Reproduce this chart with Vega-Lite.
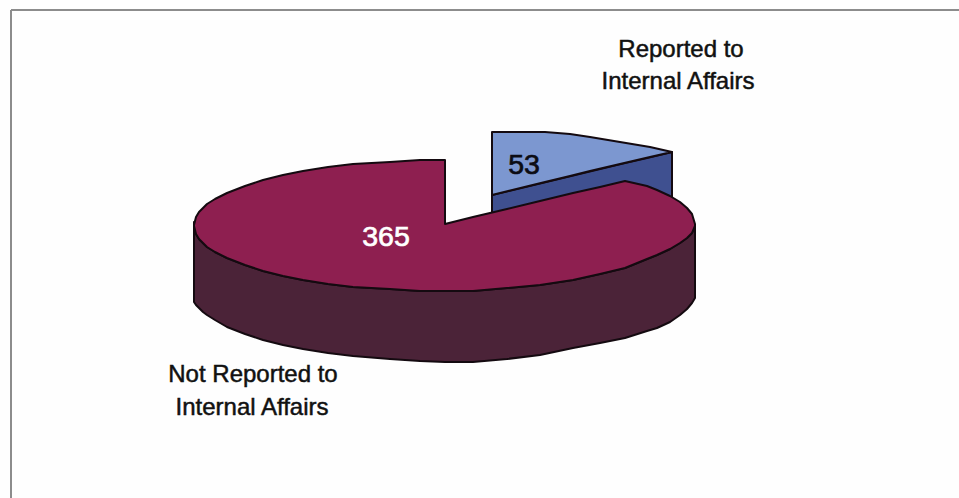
{
  "$schema": "https://vega.github.io/schema/vega-lite/v6.json",
  "width": 959,
  "height": 498,
  "padding": 0,
  "autosize": "none",
  "background": "#fefefe",
  "view": {"stroke": null},
  "datasets": {
    "faces": [
      {"piece":"reported wall","x":492,"y":195,"y2":214},
      {"piece":"reported wall","x":625,"y":163,"y2":182},
      {"piece":"reported wall","x":647,"y":158,"y2":187},
      {"piece":"reported wall","x":672,"y":152,"y2":198},

      {"piece":"reported top","x":492,"y":132,"y2":195},
      {"piece":"reported top","x":545,"y":132,"y2":182},
      {"piece":"reported top","x":570,"y":134,"y2":176},
      {"piece":"reported top","x":590,"y":137,"y2":171},
      {"piece":"reported top","x":620,"y":142,"y2":164},
      {"piece":"reported top","x":650,"y":147,"y2":157},
      {"piece":"reported top","x":672,"y":152,"y2":152},

      {"piece":"not reported wall","x":194,"y":222,"y2":302},
      {"piece":"not reported wall","x":196,"y":234,"y2":305},
      {"piece":"not reported wall","x":199,"y":239,"y2":308},
      {"piece":"not reported wall","x":203,"y":243,"y2":312},
      {"piece":"not reported wall","x":207,"y":247,"y2":315},
      {"piece":"not reported wall","x":215,"y":252,"y2":320},
      {"piece":"not reported wall","x":227,"y":258,"y2":327},
      {"piece":"not reported wall","x":245,"y":265,"y2":334},
      {"piece":"not reported wall","x":263,"y":271,"y2":340},
      {"piece":"not reported wall","x":283,"y":276,"y2":345},
      {"piece":"not reported wall","x":303,"y":280,"y2":349},
      {"piece":"not reported wall","x":328,"y":284,"y2":353},
      {"piece":"not reported wall","x":353,"y":287,"y2":356},
      {"piece":"not reported wall","x":390,"y":289,"y2":359},
      {"piece":"not reported wall","x":420,"y":291,"y2":361},
      {"piece":"not reported wall","x":445,"y":291,"y2":362},
      {"piece":"not reported wall","x":473,"y":291,"y2":362},
      {"piece":"not reported wall","x":507,"y":288,"y2":359},
      {"piece":"not reported wall","x":540,"y":285,"y2":355},
      {"piece":"not reported wall","x":573,"y":280,"y2":348},
      {"piece":"not reported wall","x":600,"y":274,"y2":343},
      {"piece":"not reported wall","x":625,"y":268,"y2":338},
      {"piece":"not reported wall","x":647,"y":259,"y2":331},
      {"piece":"not reported wall","x":657,"y":255,"y2":328},
      {"piece":"not reported wall","x":670,"y":249,"y2":322},
      {"piece":"not reported wall","x":680,"y":243,"y2":315},
      {"piece":"not reported wall","x":687,"y":238,"y2":309},
      {"piece":"not reported wall","x":692,"y":233,"y2":303},
      {"piece":"not reported wall","x":695,"y":225,"y2":298},

      {"piece":"not reported top","x":194,"y":225,"y2":226},
      {"piece":"not reported top","x":196,"y":217,"y2":234},
      {"piece":"not reported top","x":199,"y":212,"y2":239},
      {"piece":"not reported top","x":203,"y":208,"y2":243},
      {"piece":"not reported top","x":207,"y":204,"y2":247},
      {"piece":"not reported top","x":215,"y":199,"y2":252},
      {"piece":"not reported top","x":227,"y":193,"y2":258},
      {"piece":"not reported top","x":245,"y":186,"y2":265},
      {"piece":"not reported top","x":263,"y":180,"y2":271},
      {"piece":"not reported top","x":283,"y":175,"y2":276},
      {"piece":"not reported top","x":303,"y":171,"y2":280},
      {"piece":"not reported top","x":328,"y":167,"y2":284},
      {"piece":"not reported top","x":353,"y":164,"y2":287},
      {"piece":"not reported top","x":390,"y":162,"y2":289},
      {"piece":"not reported top","x":420,"y":160,"y2":291},
      {"piece":"not reported top","x":445,"y":160,"y2":291},
      {"piece":"not reported top","x":445.01,"y":224,"y2":291},
      {"piece":"not reported top","x":473,"y":217,"y2":291},
      {"piece":"not reported top","x":507,"y":209,"y2":288},
      {"piece":"not reported top","x":540,"y":201,"y2":285},
      {"piece":"not reported top","x":573,"y":193,"y2":280},
      {"piece":"not reported top","x":600,"y":187,"y2":274},
      {"piece":"not reported top","x":625,"y":181,"y2":268},
      {"piece":"not reported top","x":647,"y":186,"y2":259},
      {"piece":"not reported top","x":657,"y":190,"y2":255},
      {"piece":"not reported top","x":670,"y":196,"y2":249},
      {"piece":"not reported top","x":680,"y":202,"y2":243},
      {"piece":"not reported top","x":687,"y":208,"y2":238},
      {"piece":"not reported top","x":692,"y":214,"y2":233},
      {"piece":"not reported top","x":695,"y":224,"y2":226}
    ],
    "captions": [
      {"text":"Reported to","x":681,"y":50},
      {"text":"Internal Affairs","x":678,"y":82},
      {"text":"Not Reported to","x":253,"y":375},
      {"text":"Internal Affairs","x":252,"y":408}
    ],
    "slices": [
      {"slice":"Reported to Internal Affairs","count":53,"x":524,"y":165},
      {"slice":"Not Reported to Internal Affairs","count":365,"x":386,"y":237}
    ],
    "frame": [
      {"x":11,"x2":959,"y":10,"y2":10},
      {"x":11,"x2":11,"y":10,"y2":498}
    ]
  },
  "layer": [
    {
      "data": {"name": "frame"},
      "mark": {"type": "rule", "color": "#8c8c8c", "strokeWidth": 2},
      "encoding": {
        "x": {"field": "x", "type": "quantitative", "scale": {"domain": [0, 959]}, "axis": null},
        "x2": {"field": "x2"},
        "y": {"field": "y", "type": "quantitative", "scale": {"domain": [0, 498], "reverse": true}, "axis": null},
        "y2": {"field": "y2"}
      }
    },
    {
      "data": {"name": "faces"},
      "mark": {"type": "area", "orient": "vertical", "stroke": "#140a10", "strokeWidth": 2, "strokeJoin": "round", "interpolate": "linear"},
      "encoding": {
        "x": {"field": "x", "type": "quantitative", "scale": {"domain": [0, 959]}, "axis": null},
        "y": {"field": "y", "type": "quantitative", "scale": {"domain": [0, 498], "reverse": true}, "axis": null},
        "y2": {"field": "y2"},
        "color": {
          "field": "piece",
          "type": "nominal",
          "legend": null,
          "scale": {
            "domain": ["reported wall", "reported top", "not reported wall", "not reported top"],
            "range": ["#3f5090", "#7c97d0", "#4b2338", "#8e1f50"]
          }
        }
      }
    },
    {
      "data": {"name": "captions"},
      "mark": {"type": "text", "font": "Liberation Sans", "fontSize": 24, "color": "#111111", "stroke": "#111111", "strokeWidth": 0.5, "align": "center", "baseline": "middle"},
      "encoding": {
        "x": {"field": "x", "type": "quantitative", "scale": {"domain": [0, 959]}, "axis": null},
        "y": {"field": "y", "type": "quantitative", "scale": {"domain": [0, 498], "reverse": true}, "axis": null},
        "text": {"field": "text"}
      }
    },
    {
      "data": {"name": "slices"},
      "mark": {"type": "text", "font": "Liberation Sans", "fontSize": 28.5, "strokeWidth": 0.7, "align": "center", "baseline": "middle"},
      "encoding": {
        "x": {"field": "x", "type": "quantitative", "scale": {"domain": [0, 959]}, "axis": null},
        "y": {"field": "y", "type": "quantitative", "scale": {"domain": [0, 498], "reverse": true}, "axis": null},
        "text": {"field": "count", "type": "quantitative"},
        "color": {
          "field": "slice",
          "type": "nominal",
          "legend": null,
          "scale": {
            "domain": ["Reported to Internal Affairs", "Not Reported to Internal Affairs"],
            "range": ["#0c0c14", "#ffffff"]
          }
        },
        "stroke": {
          "field": "slice",
          "type": "nominal",
          "legend": null,
          "scale": {
            "domain": ["Reported to Internal Affairs", "Not Reported to Internal Affairs"],
            "range": ["#0c0c14", "#ffffff"]
          }
        }
      }
    }
  ],
  "resolve": {"scale": {"color": "independent"}}
}
